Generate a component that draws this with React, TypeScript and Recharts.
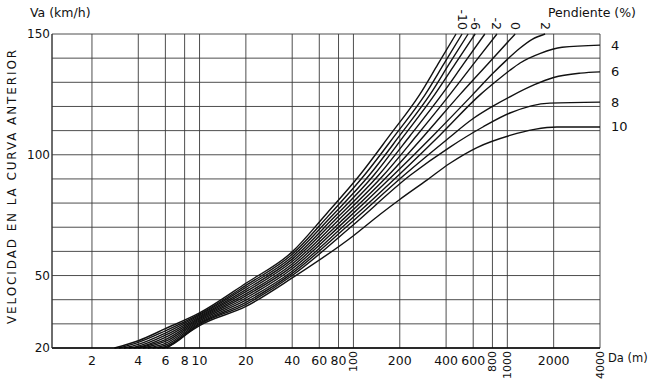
import React from 'react';
import { LineChart, Line, XAxis, YAxis, CartesianGrid } from 'recharts';

const FONT = '"DejaVu Sans", Verdana, sans-serif';

// Axis ticks
const yTicks = [20, 30, 40, 50, 60, 70, 80, 90, 100, 110, 120, 130, 140, 150];
const yLabelled = [20, 50, 100, 150];
const xTicks = [2, 4, 6, 8, 10, 20, 40, 60, 80, 100, 200, 400, 600, 800, 1000, 2000, 4000];
const xRotated = [100, 800, 1000, 4000];

// Curves: [Da (m), Va (km/h)] for each slope (%)
const sM12: [number, number][] = [[2.8, 20], [4, 23], [6, 28], [10, 34.5], [20, 46.8], [40, 59.8], [66, 75.2], [110, 91.6], [172, 108], [270, 125], [354, 137.5], [464, 150]];
const sM10: [number, number][] = [[3.0, 20], [4, 22.3], [6, 27.1], [10, 34.0], [20, 45.9], [40, 58.8], [68.7, 74.7], [118, 91.6], [186, 108], [293, 125], [386, 137.5], [508, 150]];
const sM8: [number, number][] = [[3.23, 20], [4, 21.5], [6, 26.2], [10, 33.6], [20, 45.1], [40, 57.8], [71.3, 74.2], [127, 91.6], [200, 108], [315, 125], [418, 137.5], [556, 150]];
const sM6: [number, number][] = [[3.47, 20], [4, 20.8], [6, 25.3], [10, 33.1], [20, 44.2], [40, 56.8], [73.8, 73.7], [136, 91.6], [214, 108], [338, 125], [457, 137.5], [618, 150]];
const sM4: [number, number][] = [[3.73, 20], [4, 20.3], [6, 24.4], [10, 32.6], [20, 43.3], [40, 55.8], [76.4, 73.2], [146, 91.6], [234, 108], [376, 125], [518, 137.5], [714, 150]];
const sM2: [number, number][] = [[4.0, 20], [6, 23.5], [10, 32.2], [20, 42.4], [40, 54.8], [79.2, 72.7], [157, 91.6], [258, 108], [424, 125], [602, 137.5], [856, 150]];
const sP0: [number, number][] = [[4.3, 20], [6, 22.7], [10, 31.7], [20, 41.6], [40, 53.8], [82.2, 72.2], [169, 91.6], [289, 108], [493, 125], [744, 137.5], [1124, 150]];
const sP2: [number, number][] = [[4.62, 20], [6, 21.9], [10, 31.2], [20, 40.7], [40, 52.8], [85.3, 71.7], [182, 91.6], [330, 108], [598, 125], [800, 133.5], [1000, 139.5], [1200, 144], [1450, 147.8], [1760, 150]];
const sP4: [number, number][] = [[4.96, 20], [6, 21.2], [10, 30.7], [20, 39.8], [40, 51.8], [88.8, 71.2], [197, 91.6], [363, 108], [670, 125], [830, 130], [1040, 135], [1210, 138], [1640, 142], [2270, 144.5], [4000, 145.4]];
const sP6: [number, number][] = [[5.33, 20], [6, 20.6], [10, 30.2], [20, 38.9], [40, 50.9], [92.5, 70.8], [214, 91.6], [400, 106], [600, 115], [800, 120], [1075, 124.5], [1500, 129], [2000, 132], [3000, 133.8], [4000, 134.3]];
const sP8: [number, number][] = [[5.72, 20], [6, 20.2], [10, 29.8], [20, 38.1], [40, 50], [97, 70.3], [235, 91.6], [424, 103.2], [693, 111.5], [1040, 117.3], [1890, 121.4], [4000, 121.8]];
const sP10: [number, number][] = [[6.15, 20], [10, 29.3], [20, 37.2], [40, 49], [100, 66.5], [150, 75.5], [200, 81.5], [300, 89.5], [424, 96.5], [635, 103], [1040, 108], [1500, 110.5], [2100, 111.5], [4000, 111.5]];

type Series = { name: string; label: string; pos: 'top' | 'right' | ''; pts: [number, number][] };
const series: Series[] = [
  { name: '-12', label: '', pos: '', pts: sM12 },
  { name: '-10', label: '-10', pos: 'top', pts: sM10 },
  { name: '-8', label: '', pos: '', pts: sM8 },
  { name: '-6', label: '-6', pos: 'top', pts: sM6 },
  { name: '-4', label: '', pos: '', pts: sM4 },
  { name: '-2', label: '-2', pos: 'top', pts: sM2 },
  { name: '0', label: '0', pos: 'top', pts: sP0 },
  { name: '2', label: '2', pos: 'top', pts: sP2 },
  { name: '4', label: '4', pos: 'right', pts: sP4 },
  { name: '6', label: '6', pos: 'right', pts: sP6 },
  { name: '8', label: '8', pos: 'right', pts: sP8 },
  { name: '10', label: '10', pos: 'right', pts: sP10 },
];

const YTick = (props: any) => {
  const { x, y, payload } = props;
  if (!yLabelled.includes(payload.value)) return <g />;
  return (
    <text x={x} y={y} textAnchor="end" dominantBaseline="central" fontSize={12} fill="#111" fontFamily={FONT}>
      {payload.value}
    </text>
  );
};

const XTick = (props: any) => {
  const { x, y, payload } = props;
  const v = payload.value;
  if (xRotated.includes(v)) {
    const yy = y + 3;
    return (
      <text x={x} y={yy} transform={`rotate(-90 ${x} ${yy})`} textAnchor="end" dominantBaseline="central" fontSize={11} fill="#111" fontFamily={FONT}>
        {v}
      </text>
    );
  }
  return (
    <text x={x} y={y + 12} textAnchor="middle" dominantBaseline="central" fontSize={12.5} fill="#111" fontFamily={FONT}>
      {v}
    </text>
  );
};

const makeDot = (s: Series) => (p: any) => {
  const key = `d-${s.name}-${p.index}`;
  if (p.index !== s.pts.length - 1 || !s.label) return <g key={key} />;
  if (s.pos === 'top') {
    const yy = p.cy - 4;
    return (
      <text key={key} x={p.cx} y={yy} transform={`rotate(90 ${p.cx} ${yy})`} textAnchor="end" dominantBaseline="central" fontSize={12.5} fill="#111" fontFamily={FONT}>
        {s.label}
      </text>
    );
  }
  return (
    <text key={key} x={p.cx + 11} y={p.cy} textAnchor="start" dominantBaseline="central" fontSize={13} fill="#111" fontFamily={FONT}>
      {s.label}
    </text>
  );
};

export default function App() {
  return (
    <div style={{ position: 'fixed', left: 0, top: 0, width: 650, height: 381, background: '#fff' }}>
      <LineChart width={650} height={381} margin={{ top: 34, right: 50, bottom: 0, left: 0 }}>
        <CartesianGrid stroke="#3a3a3a" strokeWidth={0.9} />
        <XAxis
          dataKey="da"
          type="number"
          scale="log"
          domain={[1.1, 4000]}
          ticks={xTicks}
          interval={0}
          height={33}
          tickSize={0}
          tickMargin={0}
          tick={<XTick />}
          axisLine={{ stroke: '#000', strokeWidth: 1.6 }}
          allowDuplicatedCategory={false}
        />
        <YAxis
          type="number"
          domain={[20, 150]}
          ticks={yTicks}
          interval={0}
          width={52}
          tickSize={0}
          tickMargin={2}
          tick={<YTick />}
          axisLine={{ stroke: '#333', strokeWidth: 1 }}
        />
        {series.map((s) => (
          <Line
            key={s.name}
            data={s.pts.map(([da, va]) => ({ da, va }))}
            dataKey="va"
            type="monotone"
            stroke="#111"
            strokeWidth={1.4}
            dot={makeDot(s)}
            activeDot={false}
            isAnimationActive={false}
          />
        ))}
      </LineChart>
      <svg width={650} height={381} style={{ position: 'absolute', left: 0, top: 0, pointerEvents: 'none' }}>
        <text x={30} y={12} dominantBaseline="central" fontSize={12.5} fill="#111" fontFamily={FONT}>Va (km/h)</text>
        <text x={548} y={12} dominantBaseline="central" fontSize={12.5} fill="#111" fontFamily={FONT}>Pendiente (%)</text>
        <text x={608} y={358} dominantBaseline="central" fontSize={11.5} fill="#111" fontFamily={FONT}>Da (m)</text>
        <text x={12} y={186} transform="rotate(-90 12 186)" textAnchor="middle" dominantBaseline="central" fontSize={12} letterSpacing={1.9} fill="#111" fontFamily={FONT}>VELOCIDAD EN LA CURVA ANTERIOR</text>
      </svg>
    </div>
  );
}
